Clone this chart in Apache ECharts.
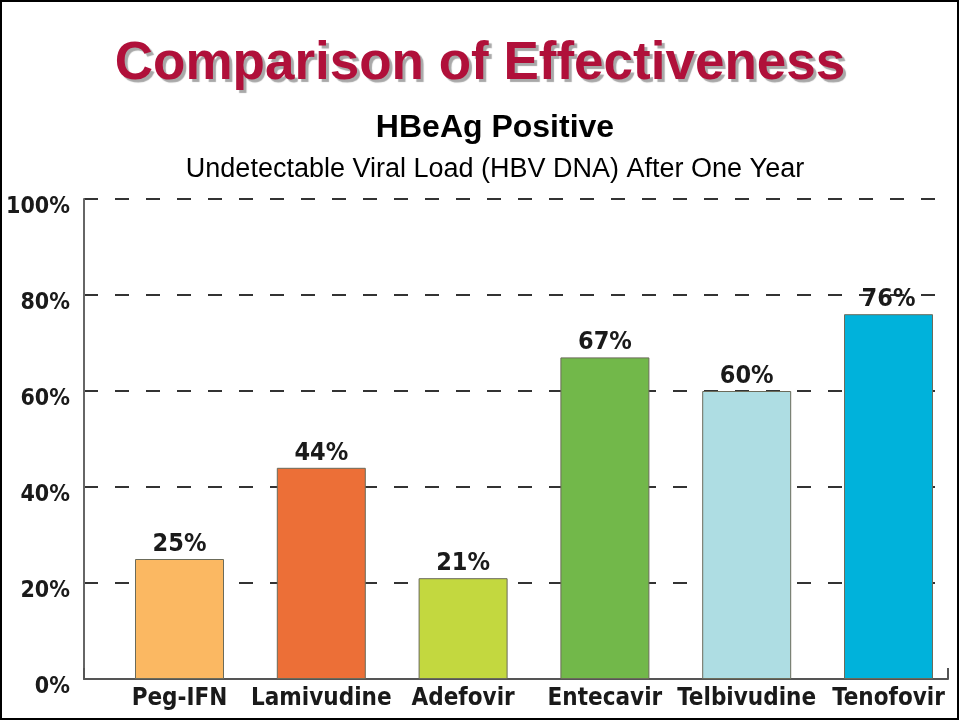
<!DOCTYPE html>
<html>
<head>
<meta charset="utf-8">
<script src="https://cdn.jsdelivr.net/npm/echarts@6/dist/echarts.min.js"></script>
<style>
html,body{margin:0;padding:0;background:#fff;}
#chart{width:960px;height:721px;}
</style>
</head>
<body>
<div id="chart"></div>
<script>
const titleText = 'Comparison of Effectiveness';
const subtitleText = 'HBeAg Positive';
const captionText = 'Undetectable Viral Load (HBV DNA) After One Year';
const categories = ['Peg-IFN', 'Lamivudine', 'Adefovir', 'Entecavir', 'Telbivudine', 'Tenofovir'];
const values = [25, 44, 21, 67, 60, 76];
const barColors = ['#FBB862', '#EC6F37', '#C3D83F', '#72B84A', '#AEDDE3', '#00B2DB'];
const yTicks = [0, 20, 40, 60, 80, 100];

const condensed = "'DejaVu Sans Condensed','Liberation Sans Narrow',sans-serif";
const chart = echarts.init(document.getElementById('chart'), null, {renderer: 'canvas'});

chart.setOption({
  backgroundColor: '#fff',
  animation: false,
  title: [
    {
      text: titleText, left: 'center', top: 33,
      textStyle: {
        fontFamily: 'Liberation Sans, Arial, sans-serif', fontWeight: 'bold', fontSize: 53,
        color: '#B0103A', textShadowColor: '#A8A8A8', textShadowOffsetX: 3, textShadowOffsetY: 3, textShadowBlur: 1
      }
    },
    {
      text: subtitleText, left: 490, textAlign: 'center', top: 107,
      textStyle: {fontFamily: 'Liberation Sans, Arial, sans-serif', fontWeight: 'bold', fontSize: 32, color: '#000'}
    },
    {
      text: captionText, left: 490, textAlign: 'center', top: 151,
      textStyle: {fontFamily: 'Liberation Sans, Arial, sans-serif', fontWeight: 'normal', fontSize: 27, color: '#000'}
    }
  ],
  graphic: [
    {type: 'rect', shape: {x: 1, y: 1, width: 957, height: 718}, style: {fill: 'none', stroke: '#000', lineWidth: 2}, silent: true}
  ],
  grid: [
    {left: 84, right: 12, top: 199, bottom: 42, outerBoundsMode: 'none', containLabel: false},
    {left: 108.6, right: 0.6, top: 199, bottom: 42, outerBoundsMode: 'none', containLabel: false}
  ],
  xAxis: [
    {
      type: 'value', gridIndex: 0, min: 0, max: 1, interval: 1,
      axisLine: {show: true, lineStyle: {color: '#555', width: 2}},
      axisTick: {show: true, inside: true, length: 11, lineStyle: {color: '#555', width: 2}},
      axisLabel: {show: false}, splitLine: {show: false}
    },
    {
      type: 'category', gridIndex: 1, data: categories,
      axisLine: {show: false}, axisTick: {show: false}, splitLine: {show: false},
      axisLabel: {
        interval: 0, margin: 8, fontFamily: condensed, fontWeight: 'bold', fontSize: 24, color: '#1a1a1a'
      }
    }
  ],
  yAxis: [
    {
      type: 'value', gridIndex: 0, min: 0, max: 100, interval: 20,
      axisLine: {show: true, lineStyle: {color: '#666', width: 2}},
      axisTick: {show: false},
      axisLabel: {
        formatter: '{value}%', margin: 14, fontFamily: condensed, fontWeight: 'bold', fontSize: 23,
        color: '#1a1a1a', verticalAlign: 'top', lineHeight: 17
      },
      splitLine: {show: true, lineStyle: {color: '#333', width: 2, type: [14, 17]}}
    },
    {
      type: 'value', gridIndex: 1, min: 0, max: 100, show: false
    }
  ],
  series: [
    {
      type: 'bar', xAxisIndex: 1, yAxisIndex: 1, barWidth: 89,
      data: values.map((v, i) => ({value: v, itemStyle: {color: barColors[i]}})),
      itemStyle: {borderColor: '#6b6b5a', borderWidth: 1},
      label: {
        show: true, position: 'top', distance: 2, formatter: '{c}%',
        fontFamily: condensed, fontWeight: 'bold', fontSize: 25, color: '#1a1a1a'
      }
    }
  ]
});
</script>
</body>
</html>
